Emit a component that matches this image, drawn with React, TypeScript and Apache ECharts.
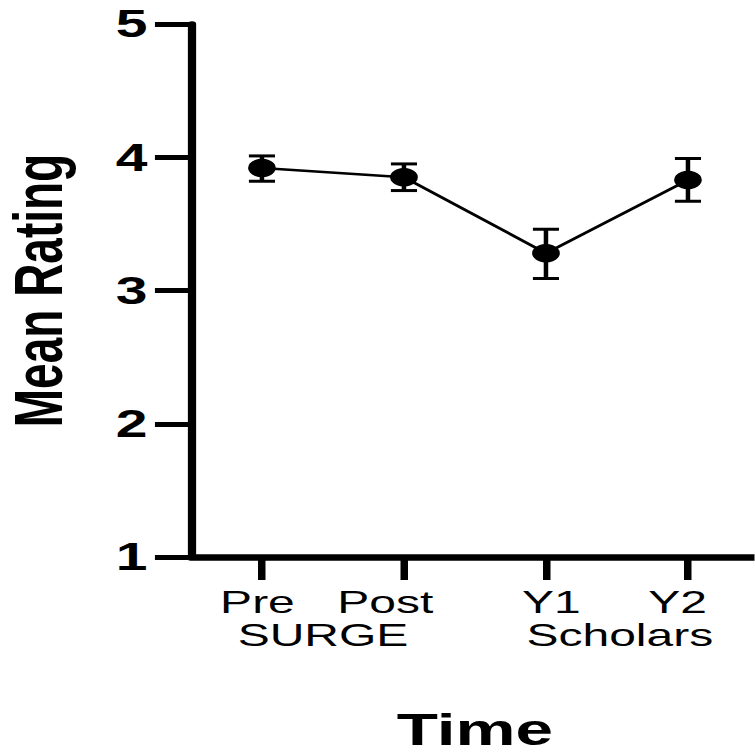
import React, { useEffect, useRef } from 'react';
import * as echarts from 'echarts';

// ---- data ----
const timeLabels = ['Pre', 'Post', 'Y1', 'Y2'];
const groupLabels = ['SURGE', 'Scholars'];
const meanRating = [3.92, 3.85, 3.28, 3.83];
const errorLow = [3.82, 3.75, 3.09, 3.67];
const errorHigh = [4.01, 3.95, 3.46, 3.99];
const yTickValues = [1, 2, 3, 4, 5];

// The reference figure is horizontally stretched; reproduce that with a CSS scaleX.
const STRETCH = 1.5;
const W = 755 / STRETCH;
const H = 756;
const FONT = '"Liberation Sans", Arial, Helvetica, sans-serif';

export default function App() {
  const ref = useRef<HTMLDivElement>(null);

  useEffect(() => {
    if (!ref.current) return;
    const chart = echarts.init(ref.current, null, { renderer: 'svg', width: W, height: H });

    const xPos = timeLabels.map((_, i) => i + 1);
    // label padding [left, right] to nudge each label like the reference
    const labelPad = [
      [0, 6],
      [0, 25],
      [7, 0],
      [0, 14],
    ];
    const rich: any = {};
    timeLabels.forEach((_, i) => {
      rich['t' + i] = {
        fontFamily: FONT,
        fontSize: 32,
        color: '#000',
        lineHeight: 32,
        padding: [0, labelPad[i][1], 0, labelPad[i][0]],
      };
    });

    const option: any = {
      animation: false,
      backgroundColor: '#fff',
      grid: {
        left: 127.3,
        top: 24,
        width: 4 * 94.67,
        height: 533,
        containLabel: false,
        outerBoundsMode: 'none',
      },
      xAxis: [
        {
          type: 'value',
          min: 0.5,
          max: 4.5,
          position: 'bottom',
          name: 'Time',
          nameLocation: 'middle',
          nameGap: 172,
          nameTextStyle: {
            fontFamily: FONT,
            fontSize: 45,
            fontWeight: 'bold',
            color: '#000',
            verticalAlign: 'middle',
          },
          axisLine: { show: true, lineStyle: { color: '#000', width: 6.5 } },
          axisTick: {
            show: true,
            customValues: xPos,
            length: 23,
            lineStyle: { color: '#000', width: 5 },
          },
          axisLabel: {
            customValues: xPos,
            margin: 29,
            formatter: (v: number) => {
              const i = Math.round(v) - 1;
              return `{t${i}|${timeLabels[i]}}`;
            },
            rich,
          },
          splitLine: { show: false },
        },
        {
          type: 'value',
          min: 0.5,
          max: 4.5,
          position: 'bottom',
          axisLine: { show: false },
          axisTick: { show: false },
          splitLine: { show: false },
          axisLabel: {
            customValues: [1.43, 3.52],
            margin: 62,
            fontFamily: FONT,
            fontSize: 32,
            lineHeight: 32,
            color: '#000',
            formatter: (v: number) => groupLabels[v < 2.5 ? 0 : 1],
          },
        },
      ],
      yAxis: {
        type: 'value',
        min: 1,
        max: 5,
        interval: 1,
        name: 'Mean Rating',
        nameLocation: 'middle',
        nameGap: 102,
        nameTextStyle: {
          fontFamily: FONT,
          fontSize: 46,
          fontWeight: 'bold',
          color: '#000',
          verticalAlign: 'middle',
        },
        axisLine: { show: true, lineStyle: { color: '#000', width: 5.5 } },
        axisTick: {
          show: true,
          customValues: yTickValues,
          length: 24,
          lineStyle: { color: '#000', width: 5 },
        },
        axisLabel: {
          customValues: yTickValues,
          margin: 29,
          fontFamily: FONT,
          fontSize: 38,
          fontWeight: 'bold',
          color: '#000',
        },
        splitLine: { show: false },
      },
      series: [
        {
          type: 'custom',
          xAxisIndex: 0,
          z: 2,
          data: xPos.map((x, i) => [x, errorLow[i], errorHigh[i]]),
          encode: { x: 0, y: [1, 2] },
          renderItem: (_params: any, api: any) => {
            const x = api.value(0);
            const top = api.coord([x, api.value(2)]);
            const bot = api.coord([x, api.value(1)]);
            const hw = 8.7;
            const style = { stroke: '#000', lineWidth: 3, fill: 'none' };
            return {
              type: 'group',
              children: [
                { type: 'line', shape: { x1: top[0], y1: top[1], x2: bot[0], y2: bot[1] }, style },
                { type: 'line', shape: { x1: top[0] - hw, y1: top[1], x2: top[0] + hw, y2: top[1] }, style },
                { type: 'line', shape: { x1: bot[0] - hw, y1: bot[1], x2: bot[0] + hw, y2: bot[1] }, style },
              ],
            };
          },
        },
        {
          type: 'line',
          xAxisIndex: 0,
          z: 3,
          data: xPos.map((x, i) => [x, meanRating[i]]),
          symbol: 'circle',
          symbolSize: 18.5,
          itemStyle: { color: '#000' },
          lineStyle: { color: '#000', width: 2.5 },
        },
      ],
    };

    chart.setOption(option);
    return () => chart.dispose();
  }, []);

  return (
    <div
      style={{
        position: 'absolute',
        left: 0,
        top: 0,
        width: 755,
        height: H,
        overflow: 'hidden',
        background: '#fff',
      }}
    >
      <div
        ref={ref}
        style={{
          width: W,
          height: H,
          transform: `scaleX(${STRETCH})`,
          transformOrigin: '0 0',
        }}
      />
    </div>
  );
}
